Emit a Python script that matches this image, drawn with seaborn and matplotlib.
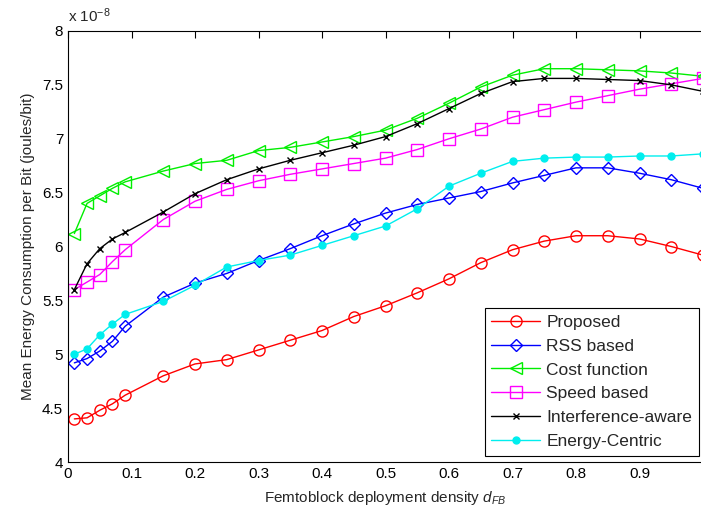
import numpy as np
import pandas as pd
import seaborn as sns
import matplotlib
matplotlib.use("Agg")
import matplotlib.pyplot as plt
from matplotlib.ticker import FuncFormatter, MultipleLocator

# femtoblock deployment density
density = [0.01, 0.03, 0.05, 0.07, 0.09, 0.15, 0.2, 0.25, 0.3, 0.35, 0.4, 0.45,
           0.5, 0.55, 0.6, 0.65, 0.7, 0.75, 0.8, 0.85, 0.9, 0.95, 1.0]
x_ticks = [0, 0.1, 0.2, 0.3, 0.4, 0.5, 0.6, 0.7, 0.8, 0.9]

# mean energy per bit, in units of 1e-8 joules/bit
proposed = [4.40, 4.41, 4.48, 4.54, 4.62, 4.80, 4.91, 4.95, 5.04, 5.13, 5.22, 5.35,
            5.45, 5.57, 5.70, 5.85, 5.97, 6.05, 6.10, 6.10, 6.07, 6.00, 5.92]
rss_based = [4.92, 4.96, 5.03, 5.12, 5.26, 5.53, 5.66, 5.75, 5.87, 5.98, 6.10, 6.21,
             6.31, 6.39, 6.45, 6.51, 6.59, 6.66, 6.73, 6.73, 6.68, 6.62, 6.54]
cost_function = [6.12, 6.40, 6.47, 6.54, 6.60, 6.70, 6.77, 6.80, 6.89, 6.92, 6.97, 7.02,
                 7.08, 7.19, 7.33, 7.48, 7.59, 7.65, 7.65, 7.64, 7.63, 7.61, 7.58]
speed_based = [5.60, 5.67, 5.74, 5.86, 5.97, 6.25, 6.42, 6.53, 6.61, 6.67, 6.72, 6.77,
               6.82, 6.90, 7.00, 7.09, 7.20, 7.27, 7.34, 7.40, 7.46, 7.51, 7.56]
interference = [5.60, 5.84, 5.98, 6.07, 6.13, 6.32, 6.49, 6.62, 6.72, 6.80, 6.87, 6.94,
                7.02, 7.14, 7.28, 7.42, 7.53, 7.56, 7.56, 7.55, 7.54, 7.50, 7.44]
energy_centric = [5.00, 5.05, 5.18, 5.28, 5.37, 5.49, 5.64, 5.81, 5.87, 5.92, 6.01, 6.10,
                  6.19, 6.35, 6.56, 6.68, 6.79, 6.82, 6.83, 6.83, 6.84, 6.84, 6.86]

series = {
    "Proposed": proposed,
    "RSS based": rss_based,
    "Cost function": cost_function,
    "Speed based": speed_based,
    "Interference-aware": interference,
    "Energy-Centric": energy_centric,
}

# colour, marker, marker size, filled
styles = {
    "Proposed": ("#ff0000", "o", 8, False),
    "RSS based": ("#0000ff", "D", 6.5, False),
    "Cost function": ("#00ee00", "<", 9, False),
    "Speed based": ("#ff00ff", "s", 8, False),
    "Interference-aware": ("#000000", "x", 4.5, True),
    "Energy-Centric": ("#00eeee", "o", 5, True),
}

sns.set_style("white")
plt.rcParams["font.family"] = ["Liberation Sans", "DejaVu Sans"]
plt.rcParams["mathtext.fontset"] = "custom"
plt.rcParams["mathtext.it"] = "Liberation Sans:italic"
plt.rcParams["mathtext.rm"] = "Liberation Sans"

fig = plt.figure(figsize=(7.01, 5.17), dpi=100)
ax = fig.add_axes([68 / 701, 1 - 462 / 517, 635 / 701, 431 / 517])

for name, vals in series.items():
    color, marker, ms, filled = styles[name]
    sns.lineplot(x=density, y=vals, ax=ax, color=color, marker=marker,
                 markersize=ms, linewidth=1.0, label=name,
                 markeredgecolor=color, markeredgewidth=1.0,
                 markerfacecolor=color if filled else "none")

ax.set_xlim(0, 1)
ax.set_ylim(4, 8)
ax.set_xticks(x_ticks)
ax.yaxis.set_major_locator(MultipleLocator(0.5))
fmt = FuncFormatter(lambda v, p: "%g" % round(v, 2))
ax.xaxis.set_major_formatter(fmt)
ax.yaxis.set_major_formatter(fmt)
ax.tick_params(direction="in", length=5, width=0.8, labelsize=11,
               top=True, right=False, colors="black")
for s in ax.spines.values():
    s.set_color("black")
    s.set_linewidth(0.8)

ax.set_xlabel("Femtoblock deployment density $d_{FB}$", fontsize=11, labelpad=6)
ax.set_ylabel("Mean Energy Consumption per Bit (joules/bit)", fontsize=11, labelpad=5)
fig.text(68 / 701, 1 - 22 / 517, r"x 10$^{\mathregular{-8}}$", fontsize=11,
         ha="left", va="baseline")

leg = ax.legend(loc="lower right", bbox_to_anchor=(699 / 701, 1 - 456 / 517),
                bbox_transform=fig.transFigure, fontsize=12.5, frameon=True,
                fancybox=False, edgecolor="black", framealpha=1,
                handlelength=2.8, labelspacing=0.5, borderaxespad=0,
                handletextpad=0.35, borderpad=0.4)
leg.get_frame().set_linewidth(0.8)

fig.savefig("out.png", dpi=100)
